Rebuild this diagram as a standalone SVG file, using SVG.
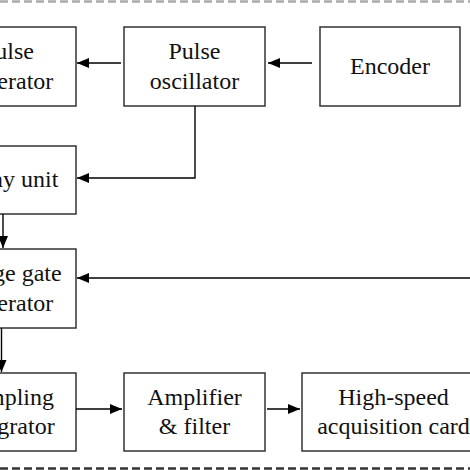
<svg xmlns="http://www.w3.org/2000/svg" width="470" height="470" viewBox="0 0 470 470">
<defs>
<style>
.box{fill:#fff;stroke:#333;stroke-width:1.5}
.t{font-family:"Liberation Serif","Times New Roman",serif;font-size:24px;fill:#111;text-anchor:middle}
.c{fill:none;stroke:#000;stroke-width:1.4}
</style>
<marker id="ah" markerWidth="13" markerHeight="10" refX="12" refY="5" orient="auto" markerUnits="userSpaceOnUse">
<path d="M0,0 L12,5 L0,10 Z" fill="#000"/>
</marker>
</defs>
<rect width="470" height="470" fill="#fff"/>
<line x1="0" y1="1.5" x2="470" y2="1.5" stroke="#aaa" stroke-width="2.5" stroke-dasharray="8,4"/>
<line x1="0" y1="468.5" x2="470" y2="468.5" stroke="#333" stroke-width="2.5" stroke-dasharray="8,4"/>
<g id="pulse-generator"><rect class="box" x="-60" y="27" width="136" height="79"/><text class="t" x="8" y="59">Pulse</text><text class="t" x="8" y="89">generator</text></g>
<g id="pulse-oscillator"><rect class="box" x="124" y="27" width="141" height="79"/><text class="t" x="194.5" y="59">Pulse</text><text class="t" x="194.5" y="89">oscillator</text></g>
<g id="encoder"><rect class="box" x="320" y="27" width="140" height="79"/><text class="t" x="390" y="74">Encoder</text></g>
<g id="delay-unit"><rect class="box" x="-60" y="146" width="136" height="68"/><text class="t" x="8" y="187">Delay unit</text></g>
<g id="range-gate-generator"><rect class="box" x="-60" y="249" width="136" height="79"/><text class="t" x="8" y="281">Range gate</text><text class="t" x="8" y="311">generator</text></g>
<g id="sampling-integrator"><rect class="box" x="-60" y="373" width="136" height="78"/><text class="t" x="8" y="405">Sampling</text><text class="t" x="8" y="434">integrator</text></g>
<g id="amplifier-filter"><rect class="box" x="124" y="373" width="141" height="78"/><text class="t" x="194.5" y="405">Amplifier</text><text class="t" x="194.5" y="434">&amp; filter</text></g>
<g id="acquisition-card"><rect class="box" x="302" y="373" width="184" height="78"/><text class="t" x="393.5" y="405">High-speed</text><text class="t" x="393.5" y="434">acquisition card</text></g>
<g id="connectors">
<path class="c" d="M312,63 H268" marker-end="url(#ah)"/>
<path class="c" d="M121,63 H77" marker-end="url(#ah)"/>
<path class="c" d="M195,106 V178 H77" marker-end="url(#ah)"/>
<path class="c" d="M3,214 V248" marker-end="url(#ah)"/>
<path class="c" d="M470,278 H77" marker-end="url(#ah)"/>
<path class="c" d="M1.5,328 V372" stroke-width="3" marker-end="url(#ah)"/>
<path class="c" d="M76,409 H122" marker-end="url(#ah)"/>
<path class="c" d="M267,409 H300" marker-end="url(#ah)"/>
</g>
</svg>
